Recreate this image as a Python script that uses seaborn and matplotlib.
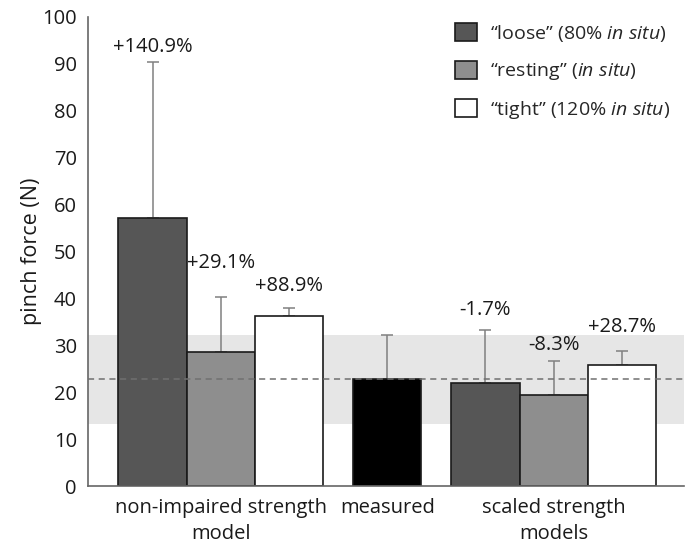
import numpy as np
import pandas as pd
import matplotlib
matplotlib.use("Agg")
import matplotlib.pyplot as plt
from matplotlib.patches import Patch
import seaborn as sns

# bar values (N)
conditions = ["loose", "resting", "tight", "measured", "loose", "resting", "tight"]
groups = ["non-impaired", "non-impaired", "non-impaired", "measured", "scaled", "scaled", "scaled"]
force = [57.2, 28.6, 36.4, 22.8, 22.0, 19.5, 25.9]
err_top = [90.5, 40.3, 38.1, 32.3, 33.3, 26.7, 28.9]
pct_labels = ["+140.9%", "+29.1%", "+88.9%", "", "-1.7%", "-8.3%", "+28.7%"]
pct_label_y = [93.6, 47.5, 42.6, None, 37.6, 30.1, 34.0]

measured_mean = 22.8
measured_sd = 9.4

group_names = ["non-impaired strength\nmodel", "measured", "scaled strength\nmodels"]
legend_labels = ["\u201cloose\u201d (80% $\\it{in\\ situ}$)",
                 "\u201cresting\u201d ($\\it{in\\ situ}$)",
                 "\u201ctight\u201d (120% $\\it{in\\ situ}$)"]

colors = {"loose": "#565656", "resting": "#8e8e8e", "tight": "#ffffff", "measured": "#000000"}

# x positions: bars touch within a group, small gap between groups
gap = 0.44
pos = []
x = 0.0
prev = None
for g in groups:
    if prev is not None:
        x += 1 + (gap if g != prev else 0)
    pos.append(x)
    prev = g

df = pd.DataFrame({"pos": pos, "force": force, "cond": conditions, "group": groups})

sns.set_style("white")
plt.rcParams["font.family"] = ["Open Sans", "DejaVu Sans"]
plt.rcParams["mathtext.fontset"] = "custom"
plt.rcParams["mathtext.rm"] = "Open Sans"
plt.rcParams["mathtext.it"] = "Open Sans:italic"

fig = plt.figure(figsize=(6.89, 5.46), dpi=100)
ax = fig.add_axes([0.1277, 0.109, 0.865, 0.860])

# shaded band = measured mean +/- SD, dashed line = mean
ax.axhspan(measured_mean - measured_sd, measured_mean + measured_sd, color="#e6e6e6", zorder=0, lw=0)

sns.barplot(data=df, x="pos", y="force", hue="cond", palette=colors, native_scale=True,
            dodge=False, width=1.0, edgecolor="#1a1a1a", linewidth=1.2, legend=False,
            errorbar=None, ax=ax, zorder=2)

ax.axhline(measured_mean, color="#707070", ls=(0, (4, 3)), lw=1.1, zorder=3)

upper = np.array(err_top) - np.array(force)
ax.errorbar(pos, force, yerr=[np.zeros(len(force)), upper], fmt="none",
            ecolor="#808080", elinewidth=1.1, capsize=4, capthick=1.1, zorder=1)

for xp, lab, ly in zip(pos, pct_labels, pct_label_y):
    if lab:
        ax.text(xp, ly, lab, ha="center", va="center", fontsize=14.5, color="#1a1a1a")

centers = [np.mean([p for p, g in zip(pos, groups) if g == gg]) for gg in dict.fromkeys(groups)]
ax.set_xticks(centers)
ax.set_xticklabels(group_names, fontsize=14.5, linespacing=1.45, color="#1a1a1a")
ax.set_xlim(-0.946, 7.79)
ax.set_ylim(0, 100)
ax.set_yticks(range(0, 101, 10))
ax.tick_params(axis="y", labelsize=14.5, length=0, pad=8, labelcolor="#1a1a1a")
ax.tick_params(axis="x", length=0, pad=8)
ax.set_xlabel("")
ax.set_ylabel("pinch force (N)", fontsize=15.5, color="#1a1a1a", labelpad=0)

for s in ["top", "right"]:
    ax.spines[s].set_visible(False)
for s in ["left", "bottom"]:
    ax.spines[s].set_color("#666666")
    ax.spines[s].set_linewidth(1.2)

handles = [Patch(facecolor=colors[c], edgecolor="#1a1a1a", linewidth=1.2) for c in ["loose", "resting", "tight"]]
fig.legend(handles, legend_labels, loc="upper left", bbox_to_anchor=(455 / 689, 1 - 23 / 546),
           frameon=False, fontsize=14, handlelength=1.15, handleheight=1.05,
           handletextpad=0.65, labelspacing=0.85, borderpad=0, borderaxespad=0)

fig.savefig("out.png", dpi=100)
